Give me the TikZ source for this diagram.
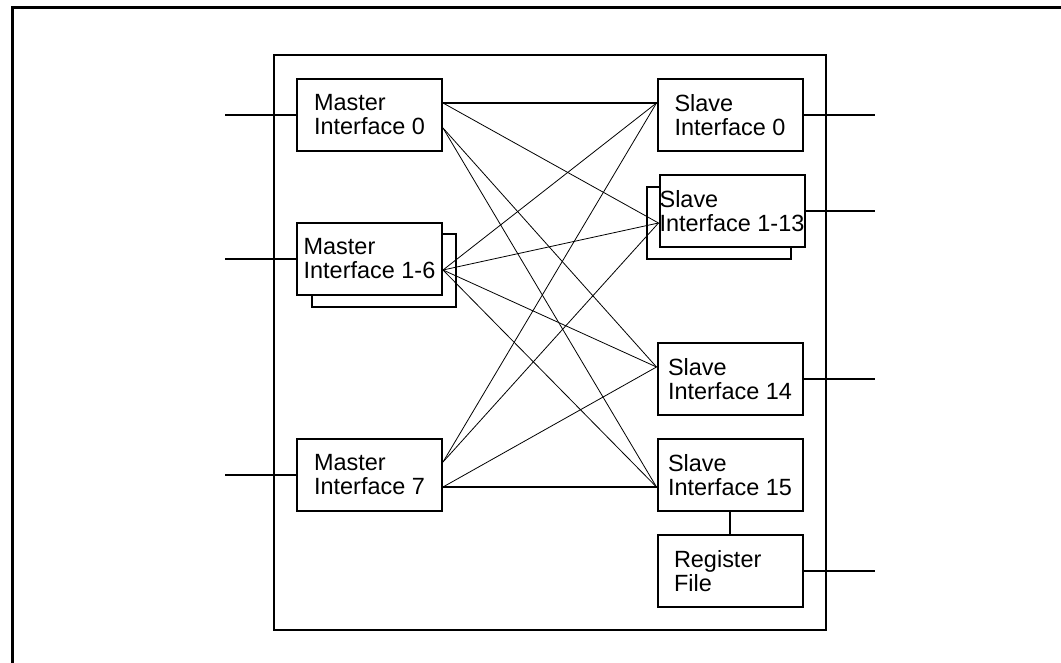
\documentclass[tikz,border=0pt]{standalone}
\usepackage{fontspec}
\setmainfont{Liberation Sans}
\usetikzlibrary{positioning}
\tikzset{
    ifnode/.style = {rectangle, draw=black, line width=1.5pt, fill=white, align=left, inner sep=0pt,
                     font=\fontsize{17.6}{18}\selectfont, minimum width=108.75pt, minimum height=54pt},
    ifback/.style = {rectangle, draw=black, line width=1.5pt, fill=white, minimum width=108pt, minimum height=54pt},
    bus/.style = {line width=1.5pt},
    link/.style = {line width=0.6pt},
}

\begin{document}
\begin{tikzpicture}[
    x=0.75pt, y=-0.75pt,
    node distance=16.5pt
  ]
  \useasboundingbox (0,0) rectangle (1061,663);
  % frame and block outline
  \draw[line width=2.25pt] (1061,8) -- (12,8) -- (12,663);
  \node[draw, line width=1.5pt, minimum width=414pt, minimum height=431.25pt] (xbar) at (550,342.5) {};
  % masters
  \node[ifnode] (M0) at (369.5,115) {Master\\Interface 0};
  \node[ifback] (M16b) at (384,270.5) {};
  \node[ifnode] (M16) at (369.5,259) {Master\\Interface 1-6};
  \node[ifnode] (M7) at (369.5,475) {Master\\Interface 7};
  % slaves
  \node[ifnode] (S0) at (730,115) {Slave\\Interface 0};
  \node[ifback] (S113b) at (719,223) {};
  \node[ifnode] (S113) at (732,211) {Slave\\Interface 1-13};
  \node[ifnode] (S14) at (730,379) {Slave\\Interface 14};
  \node[ifnode] (S15) at (730,475) {Slave\\Interface 15};
  \node[ifnode, text width=84pt, below=of S15] (RF) {Register\\File};
  % ports
  \coordinate (m0a) at ([yshift=9pt]M0.east);
  \coordinate (m0b) at ([yshift=-9.75pt]M0.east);
  \coordinate (m16) at ([yshift=-8.25pt]M16.east);
  \coordinate (m7a) at ([yshift=9.75pt]M7.east);
  \coordinate (m7b) at ([yshift=-9pt]M7.east);
  \coordinate (s0) at ([yshift=9pt]S0.west);
  \coordinate (s113) at ([yshift=-9pt]S113.west);
  \coordinate (s14) at ([yshift=9pt]S14.west);
  \coordinate (s15) at ([yshift=-9pt]S15.west);
  \coordinate (extL) at (225,0);
  \coordinate (extR) at (875,0);
  % crossbar
  \draw[bus] (m0a) -- (s0);
  \draw[bus] (m7b) -- (s15);
  \draw[link] (m0a) -- (s113);
  \foreach \s in {s14,s15} \draw[link] (m0b) -- (\s);
  \foreach \s in {s0,s113,s14,s15} \draw[link] (m16) -- (\s);
  \foreach \s in {s0,s113} \draw[link] (m7a) -- (\s);
  \draw[link] (m7b) -- (s14);
  \draw[bus] (S15) -- (RF);
  % external ports
  \foreach \m in {M0,M16,M7} \draw[bus] (\m.west) -- (\m.west -| extL);
  \foreach \s in {S0,S113,S14,RF} \draw[bus] (\s.east) -- (\s.east -| extR);
\end{tikzpicture}
\end{document}
